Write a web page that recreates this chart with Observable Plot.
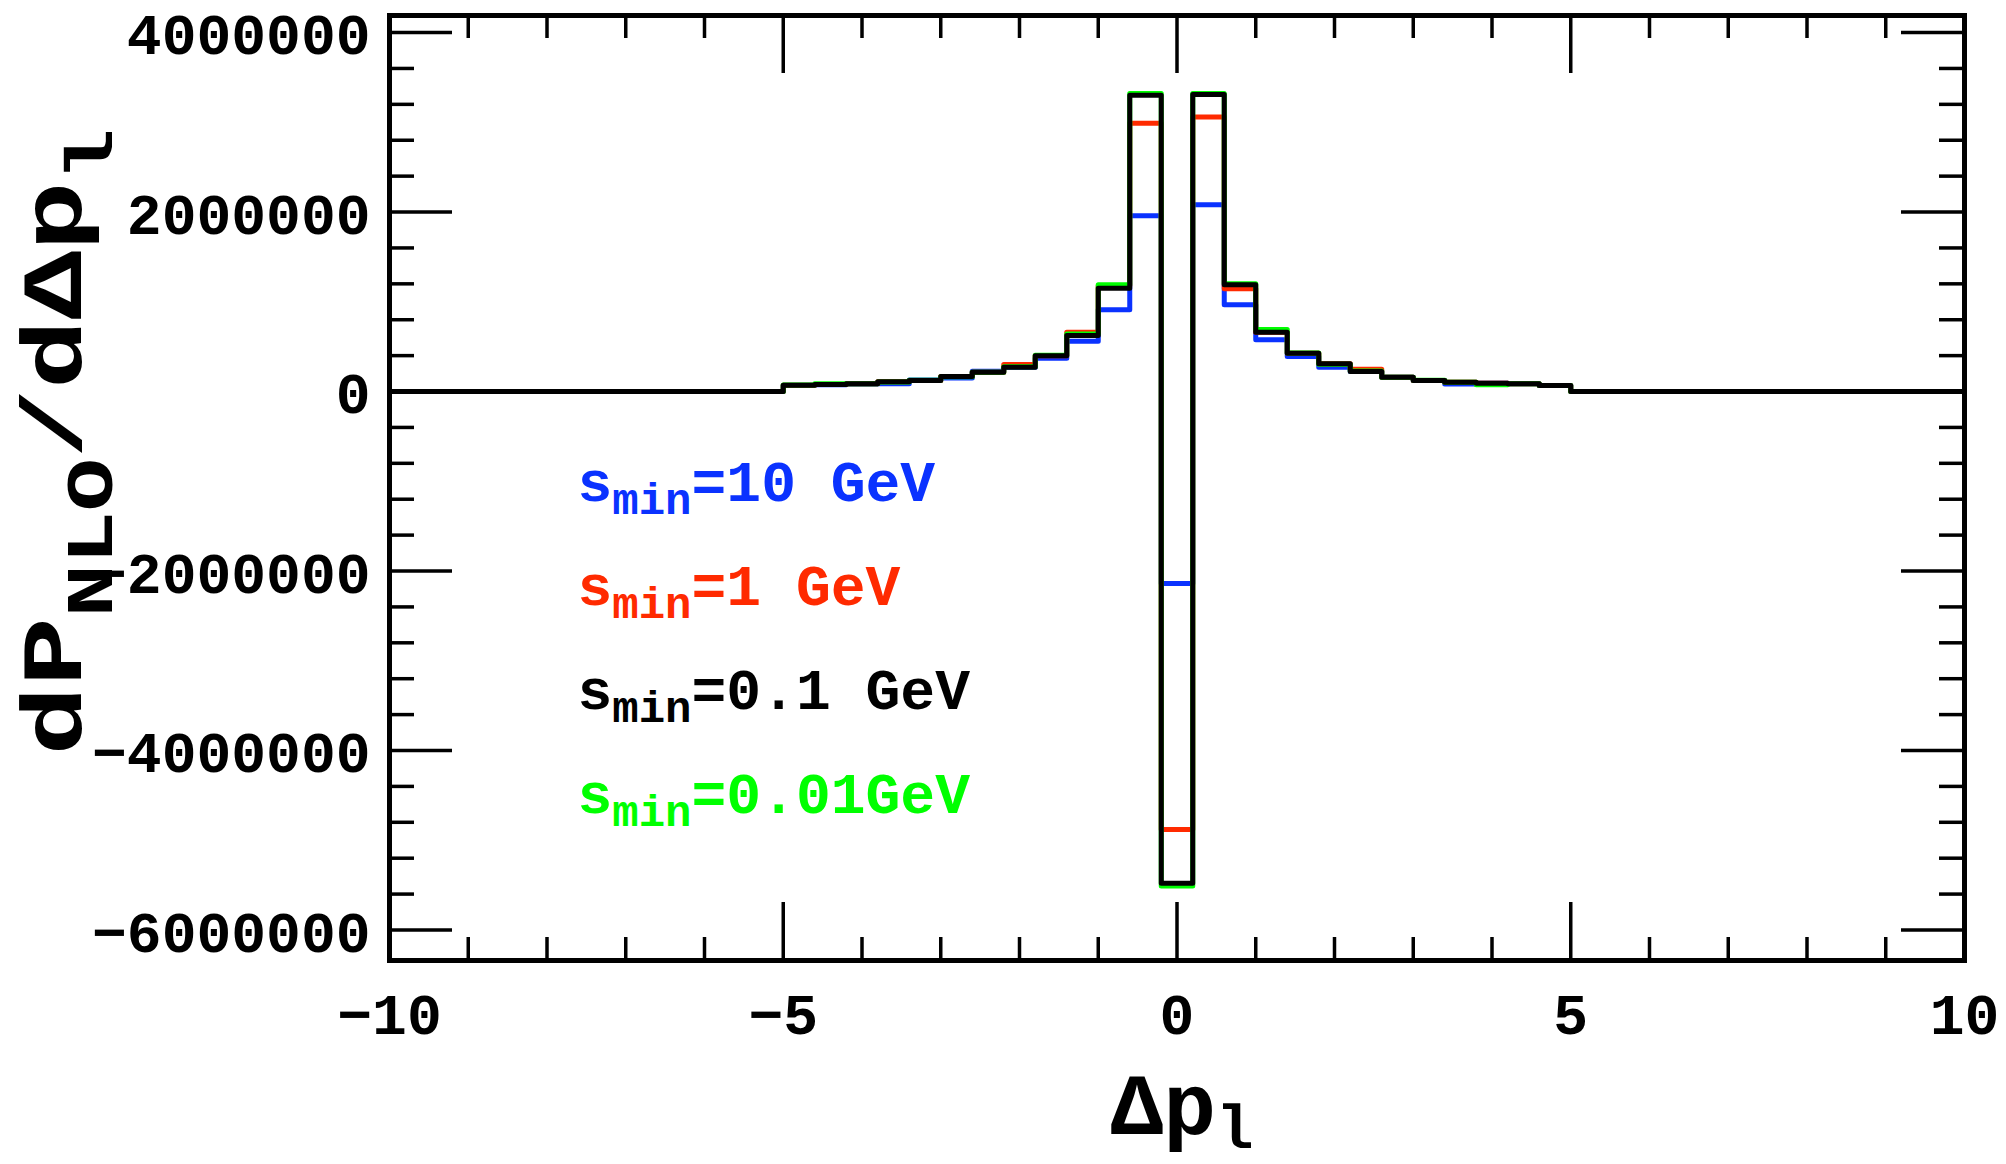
<!DOCTYPE html>
<html><head><meta charset="utf-8">
<script src="https://cdn.jsdelivr.net/npm/d3@7"></script>
<script src="https://cdn.jsdelivr.net/npm/@observablehq/plot@0.6"></script>
<style>html,body{margin:0;padding:0;background:#fff;} svg{display:block}</style>
</head><body><div id="chart"></div>
<script>
// ---- data ----
const binEdges = [-5.0,-4.6,-4.2,-3.8,-3.4,-3.0,-2.6,-2.2,-1.8,-1.4,-1.0,-0.6,-0.2,0.2,0.6,1.0,1.4,1.8,2.2,2.6,3.0,3.4,3.8,4.2,4.6,5.0];
const xRange = [-10, 10];
const yRange = [-6340000, 4190000];
const valuesS10  = [70000, 75000, 83000, 88000, 128000, 150000, 225000, 271000, 370000, 560000, 910000, 1960000, -2140000, 2080000, 967000, 576000, 390000, 270000, 223000, 160000, 123000, 85000, 93000, 86000, 67000];
const valuesS1   = [70000, 78000, 86000, 108000, 123000, 167000, 215000, 300000, 400000, 660000, 1180000, 2990000, -4880000, 3060000, 1145000, 660000, 427000, 309000, 249000, 160000, 123000, 104000, 93000, 86000, 67000];
const valuesS01  = [70000, 78000, 86000, 110000, 123000, 167000, 215000, 271000, 400000, 625000, 1150000, 3300000, -5480000, 3310000, 1190000, 660000, 427000, 309000, 223000, 160000, 123000, 104000, 93000, 86000, 67000];
const valuesS001 = [72000, 88000, 86000, 106000, 126000, 165000, 215000, 275000, 405000, 640000, 1190000, 3320000, -5510000, 3320000, 1200000, 690000, 430000, 305000, 228000, 160000, 125000, 102000, 75000, 86000, 67000];
const seriesLabels = ["s_{min}=10 GeV", "s_{min}=1 GeV", "s_{min}=0.1 GeV", "s_{min}=0.01GeV"];
const seriesColors = ["#0a32ff", "#ff2a00", "#000000", "#00ff00"];
const xMajorTicks = [-10, -5, 0, 5, 10];
const xMinorTicks = [-9, -8, -7, -6, -4, -3, -2, -1, 1, 2, 3, 4, 6, 7, 8, 9];
const yMajorTicks = [-6000000, -4000000, -2000000, 0, 2000000, 4000000];
const yMinorTicks = [-5600000, -5200000, -4800000, -4400000, -3600000, -3200000, -2800000, -2400000, -1600000, -1200000, -800000, -400000, 400000, 800000, 1200000, 1600000, 2400000, 2800000, 3200000, 3600000];
const xTitle = "Δp_{l}";
const yTitle = "dP_{NLO}/dΔp_{l}";

// ---- layout ----
const W = 2006, H = 1164, mL = 389, mR = 42, mT = 15, mB = 204;
const fw = W - mL - mR, fh = H - mT - mB;
const FONT = "Liberation Mono, Courier New, monospace";

function stepData(values) {
  const pts = [{x: xRange[0], y: 0}];
  values.forEach((v, i) => pts.push({x: binEdges[i], y: v}));
  pts.push({x: binEdges[binEdges.length - 1], y: 0});
  pts.push({x: xRange[1], y: 0});
  return pts;
}
const allValues = [valuesS10, valuesS1, valuesS01, valuesS001];
const drawOrder = [0, 1, 3, 2];
const fmt = d => d < 0 ? "\u2212" + Math.abs(d) : String(d);

const tickStyle = {stroke: "black", strokeWidth: 3.5};
const marks = [];
// ticks (inward, all four sides)
marks.push(Plot.ruleX(xMinorTicks, {x: d => d, insetTop: fh - 23, ...tickStyle}));
marks.push(Plot.ruleX(xMinorTicks, {x: d => d, insetBottom: fh - 23, ...tickStyle}));
marks.push(Plot.ruleX(xMajorTicks, {x: d => d, insetTop: fh - 58, ...tickStyle}));
marks.push(Plot.ruleX(xMajorTicks, {x: d => d, insetBottom: fh - 58, ...tickStyle}));
marks.push(Plot.ruleY(yMinorTicks, {y: d => d, insetRight: fw - 25, ...tickStyle}));
marks.push(Plot.ruleY(yMinorTicks, {y: d => d, insetLeft: fw - 25, ...tickStyle}));
marks.push(Plot.ruleY(yMajorTicks, {y: d => d, insetRight: fw - 63, ...tickStyle}));
marks.push(Plot.ruleY(yMajorTicks, {y: d => d, insetLeft: fw - 63, ...tickStyle}));
// data
for (const i of drawOrder) {
  marks.push(Plot.line(stepData(allValues[i]), {x: "x", y: "y", curve: "step-after", stroke: seriesColors[i], strokeWidth: 5, strokeLinejoin: "round", strokeLinecap: "round"}));
}
marks.push(Plot.frame({stroke: "black", strokeWidth: 5}));
// tick labels
marks.push(Plot.text(yMajorTicks, {y: d => d, text: fmt, frameAnchor: "left", textAnchor: "end", dx: -19, dy: 3, fontSize: 58, fontWeight: "bold", fontFamily: FONT, fill: "black"}));
marks.push(Plot.text(xMajorTicks, {x: d => d, text: fmt, frameAnchor: "bottom", lineAnchor: "bottom", dy: 73, fontSize: 58, fontWeight: "bold", fontFamily: FONT, fill: "black"}));
// axis titles
marks.push(Plot.text([yTitle], {text: d => d, frameAnchor: "left", rotate: -90, textAnchor: "start", lineAnchor: "bottom", dx: 80 - mL, dy: 755 - (mT + fh / 2), fontSize: 86, fontWeight: "bold", fontFamily: FONT, fill: "black"}));
marks.push(Plot.text([xTitle], {text: d => d, frameAnchor: "bottom", textAnchor: "start", lineAnchor: "bottom", dx: 1110 - (mL + fw / 2), dy: 173, fontSize: 88, fontWeight: "bold", fontFamily: FONT, fill: "black"}));
// legend
seriesLabels.forEach((lab, i) => {
  marks.push(Plot.text([lab], {text: d => d, frameAnchor: "top-left", textAnchor: "start", lineAnchor: "bottom", dx: 188, dy: 485 + i * 104, fontSize: 58, fontWeight: "bold", fontFamily: FONT, fill: seriesColors[i]}));
});

const chart = Plot.plot({
  width: W, height: H,
  marginLeft: mL, marginRight: mR, marginTop: mT, marginBottom: mB,
  x: {domain: xRange, axis: null},
  y: {domain: yRange, axis: null},
  style: {background: "white", overflow: "visible"},
  marks
});

// turn "_{...}" markup into subscript tspans
const subConfig = new Map([
  [yTitle, {subSize: 66, shift: 31, textLength: 627}],
  [xTitle, {subSize: 62, shift: 14}],
  ...seriesLabels.map(l => [l, {subSize: 44, shift: 13}])
]);
chart.querySelectorAll("text").forEach(t => {
  const raw = t.textContent;
  const cfg = subConfig.get(raw);
  if (!cfg) return;
  const parts = raw.split(/_\{([^}]*)\}/);
  while (t.firstChild) t.removeChild(t.firstChild);
  let down = 0;
  parts.forEach((p, i) => {
    if (!p) return;
    const ts = document.createElementNS("http://www.w3.org/2000/svg", "tspan");
    ts.textContent = p;
    if (i % 2 === 1) { ts.setAttribute("font-size", cfg.subSize); ts.setAttribute("dy", cfg.shift - down); down = cfg.shift; }
    else if (down) { ts.setAttribute("dy", -down); down = 0; }
    t.appendChild(ts);
  });
  if (cfg.textLength) { t.setAttribute("textLength", cfg.textLength); t.setAttribute("lengthAdjust", "spacingAndGlyphs"); }
});

document.getElementById("chart").appendChild(chart);
</script>
</body></html>
